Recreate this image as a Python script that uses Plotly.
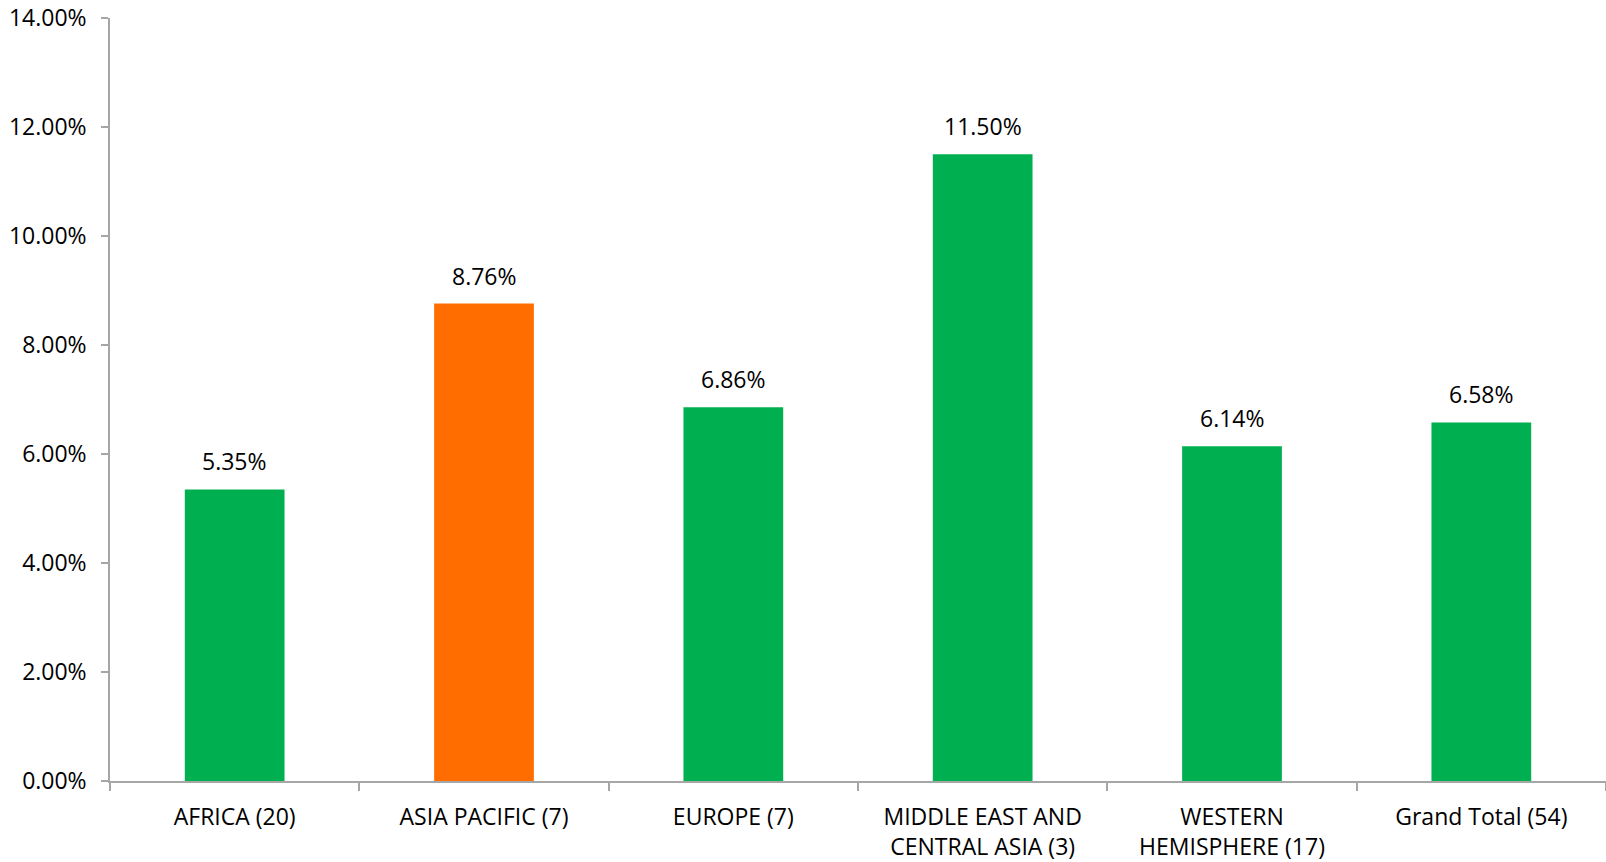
import plotly.graph_objects as go

categories = ["AFRICA (20)", "ASIA PACIFIC (7)", "EUROPE (7)",
              "MIDDLE EAST AND<br>CENTRAL ASIA (3)", "WESTERN<br>HEMISPHERE (17)",
              "Grand Total (54)"]
values = [5.35, 8.76, 6.86, 11.50, 6.14, 6.58]
colors = ["#00B050", "#FF6D00", "#00B050", "#00B050", "#00B050", "#00B050"]
ytick_vals = [0, 2, 4, 6, 8, 10, 12, 14]
ytick_text = ["0.00%", "2.00%", "4.00%", "6.00%", "8.00%", "10.00%", "12.00%", "14.00%"]

FONT = "Open Sans"
FS = 23

fig = go.Figure()
fig.add_trace(go.Bar(
    x=categories, y=values, marker=dict(color=colors, line=dict(width=0)),
    cliponaxis=False, hoverinfo="skip",
))
for c, v in zip(categories, values):
    fig.add_annotation(x=c, y=v, text=f"{v:.2f}%", showarrow=False,
                       yanchor="bottom", yshift=10,
                       font=dict(family=FONT, size=FS, color="#000000"))

fig.update_layout(
    width=1606, height=862,
    margin=dict(l=110, r=0, t=18, b=81),
    paper_bgcolor="white", plot_bgcolor="white",
    bargap=0.6, showlegend=False,
    font=dict(family=FONT, size=FS, color="#000000"),
)
fig.update_xaxes(
    showline=True, linecolor="#A6A6A6", linewidth=1.5,
    ticks="outside", ticklen=8, tickcolor="#A6A6A6", tickwidth=1.5,
    tickson="boundaries", showgrid=False, automargin=False,
    tickfont=dict(family=FONT, size=FS), ticklabelstandoff=15,
)
fig.update_yaxes(
    range=[0, 14], tickvals=ytick_vals, ticktext=ytick_text,
    showline=True, linecolor="#A6A6A6", linewidth=1.5,
    ticks="outside", ticklen=7, tickcolor="#A6A6A6", tickwidth=1.5,
    showgrid=False, zeroline=False, automargin=False,
    ticklabeloverflow="allow",
    tickfont=dict(family=FONT, size=FS), ticklabelstandoff=10,
)

fig.write_html("out.html", config={"displayModeBar": False},
               post_script="document.body.style.margin='0';document.body.style.overflow='hidden';")
